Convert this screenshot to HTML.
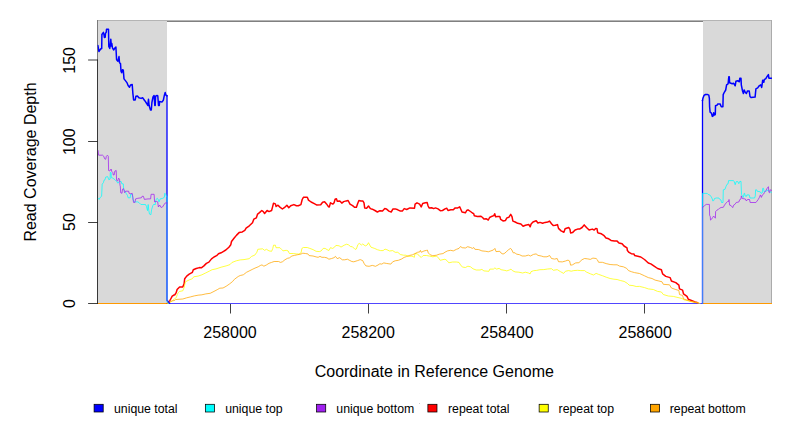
<!DOCTYPE html>
<html><head><meta charset="utf-8">
<style>
html,body{margin:0;padding:0;background:#fff;}
body{width:792px;height:432px;overflow:hidden;position:relative;font-family:"Liberation Sans",sans-serif;}
svg{position:absolute;left:0;top:0;}
text{font-family:"Liberation Sans",sans-serif;fill:#000;}
</style></head><body>
<svg width="792" height="432" viewBox="0 0 792 432">
<rect x="0" y="0" width="792" height="432" fill="#fff"/>
<!-- box -->
<rect x="97" y="20" width="675" height="1" fill="#b4b4b4"/>
<rect x="167" y="21" width="536" height="1" fill="#808080"/>
<rect x="771" y="20" width="1" height="284" fill="#ababab"/>
<!-- gray regions -->
<rect x="98" y="21" width="69" height="283" fill="#d9d9d9"/>
<rect x="703" y="21" width="68" height="283" fill="#d9d9d9"/>
<rect x="97" y="20" width="1" height="40" fill="#7a7a7a"/>
<rect x="97" y="59.5" width="1" height="244.5" fill="#383838"/>
<!-- axes ticks -->
<g stroke="#000" stroke-width="0.75" fill="none">
<path d="M97.5 303.5H88.1M97.5 222.5H88.1M97.5 141.5H88.1M97.5 60H88.1"/>
<path d="M230.5 303.5V313.5M368.5 303.5V313.5M506.5 303.5V313.5M644.5 303.5V313.5"/>
</g>
<!-- CURVES -->
<defs><clipPath id="pc"><rect x="97.5" y="20.5" width="674.5" height="283.5"/></clipPath></defs>
<g id="curves" clip-path="url(#pc)" fill="none" stroke-linejoin="round" stroke-linecap="round">
<rect x="98" y="303" width="69" height="1" fill="#ff9900"/>
<rect x="703" y="303" width="69" height="1" fill="#ff9900"/>
<rect x="167" y="303" width="536" height="1" fill="#5046ff"/>
<path d="M167.3 303.4L168.2 302.2L169.8 300.7L171.0 298.5L172.2 296.2L173.5 295.3L174.8 294.8L175.6 293.5L176.3 292.3L177.1 289.5L179.6 286.9L182.8 286.9L184.1 283.8L184.7 278.7L186.7 276.1L189.2 274.2L192.4 272.3L193.3 269.7L196.2 268.5L199.4 267.6L201.3 267.8L203.9 265.9L206.4 263.4L208.9 262.1L211.5 258.9L214.0 257.0L216.6 255.7L218.5 253.8L221.1 252.8L223.6 251.3L225.8 250.0L228.9 247.2L230.8 244.7L231.5 241.5L234.0 238.3L236.6 235.1L239.1 232.6L242.3 231.9L244.8 230.4L246.1 228.1L249.3 225.8L252.5 222.8L253.8 219.2L256.3 217.9L257.6 214.1L259.5 212.6L261.8 210.5L263.3 211.6L264.6 213.5L267.1 210.5L269.0 211.6L271.6 210.5L272.5 207.1L273.5 203.3L275.4 203.9L276.1 206.5L278.0 205.2L279.9 207.1L282.4 209.0L284.3 207.7L286.9 205.2L288.8 207.7L290.7 205.8L293.9 204.6L296.4 205.8L298.3 205.8L300.9 204.6L302.2 199.5L303.4 197.3L307.3 197.3L308.5 200.1L311.1 202.0L314.3 203.7L316.9 205.1L320.7 204.7L322.6 202.2L324.6 201.8L326.5 203.9L328.4 206.7L329.3 206.9L330.5 202.8L332.8 204.1L334.1 202.8L335.1 199.3L336.4 198.8L337.3 201.3L339.8 200.9L341.8 203.1L343.7 201.6L346.2 200.9L348.1 200.5L350.0 204.1L352.6 205.6L354.5 207.3L356.4 207.3L357.7 203.5L358.9 200.5L360.9 200.9L362.8 200.9L364.0 202.8L364.7 207.9L366.6 208.2L368.5 206.0L370.4 208.6L372.3 209.2L374.9 210.5L377.4 212.0L380.0 210.7L382.5 211.1L384.8 208.6L386.3 208.9L388.9 211.1L391.2 212.0L393.0 208.9L395.3 208.9L397.8 209.8L400.4 211.1L402.3 211.1L404.2 208.6L406.7 209.5L409.9 207.9L414.5 208.2L415.1 204.1L417.0 202.8L419.6 204.1L421.2 206.9L422.7 203.5L425.3 202.8L427.2 202.6L428.1 206.0L429.1 207.9L431.7 207.7L433.6 208.6L435.5 207.9L438.0 208.9L440.3 210.7L442.5 210.5L445.0 208.9L446.7 208.2L448.0 210.5L450.8 209.8L453.3 209.8L455.2 207.9L457.8 207.9L459.7 206.9L461.0 209.8L462.0 212.0L465.4 212.8L466.7 210.5L468.0 209.8L470.5 211.5L472.4 213.0L473.7 213.6L474.3 215.8L477.5 216.6L480.7 216.2L482.6 217.5L483.9 219.1L486.4 218.8L488.3 220.0L489.6 217.5L492.2 216.2L493.8 215.6L494.7 213.7L495.6 216.8L497.9 216.6L499.8 216.6L500.7 219.4L503.0 220.9L505.5 220.4L506.9 217.9L508.8 217.3L510.7 214.4L512.0 216.7L512.9 221.1L515.2 222.0L517.7 223.3L520.9 224.0L523.1 226.2L525.4 225.3L528.9 224.6L530.2 226.8L531.1 224.0L533.0 222.0L536.2 220.7L537.9 223.0L540.0 222.4L542.6 223.3L545.1 222.4L547.7 222.0L549.6 221.1L551.5 223.7L553.2 225.6L555.3 225.3L557.5 224.6L558.5 228.4L561.1 230.9L563.9 232.2L565.1 228.8L568.7 227.5L570.0 229.4L570.6 233.0L572.5 232.6L575.1 230.0L577.6 229.1L579.5 229.1L582.1 227.5L584.2 224.9L586.5 227.5L589.1 230.0L592.3 229.1L594.2 230.0L595.7 228.4L597.0 228.8L597.7 232.6L598.4 233.0L601.4 233.8L604.1 235.7L606.0 238.0L608.7 238.8L611.0 240.4L614.4 240.9L617.1 241.1L619.0 243.0L622.1 243.7L624.0 246.0L627.0 247.9L627.4 250.6L629.0 252.4L631.3 253.7L633.9 253.9L634.7 255.6L637.8 256.3L640.8 257.0L644.5 259.5L648.3 263.0L650.8 263.9L654.5 266.4L657.6 268.5L661.4 269.8L662.6 273.9L665.8 276.4L670.1 277.6L671.4 281.0L675.8 282.6L678.9 285.1L679.5 288.9L682.6 290.1L683.5 293.9L687.0 296.4L688.3 299.3L692.0 300.8L695.1 302.0L697.8 302.8" stroke="#ff0000" stroke-width="1.5"/>
<path d="M167.3 303.4L169.0 303.0L170.4 302.4L172.6 300.5L174.8 298.7L176.3 297.6L177.4 294.2L178.5 292.4L179.6 291.4L182.8 290.8L184.1 287.6L185.4 281.8L189.2 279.9L192.4 278.7L193.7 276.8L198.1 276.1L201.9 274.8L205.8 272.9L209.6 271.0L212.1 269.7L216.0 268.9L221.1 267.2L226.1 265.9L230.0 264.6L231.9 262.5L236.3 260.8L240.2 259.9L244.0 259.6L249.1 258.7L251.6 256.4L254.8 255.1L256.9 252.2L257.8 249.3L262.6 248.8L264.6 250.3L266.5 249.3L269.0 250.9L271.6 251.3L272.8 248.4L273.5 245.2L275.4 245.2L276.0 247.7L279.9 247.7L281.8 249.6L283.0 250.9L286.2 250.3L288.1 250.9L289.4 253.5L293.2 253.5L296.4 253.9L298.9 254.1L301.1 252.8L301.9 248.4L303.4 247.5L307.2 247.5L309.8 248.4L313.0 249.6L316.1 251.3L319.3 251.6L321.2 250.9L323.2 248.4L325.1 248.4L327.0 249.6L328.9 250.5L330.4 247.7L332.7 248.4L334.6 247.1L335.9 245.4L339.1 245.8L341.0 247.1L344.2 245.2L346.7 244.2L348.6 244.9L350.5 246.5L352.5 246.8L355.1 249.4L356.4 248.9L357.9 244.6L359.2 243.4L361.5 245.0L362.7 244.0L365.3 245.9L367.2 245.0L368.5 242.7L369.7 245.0L371.0 247.2L374.8 248.5L377.4 249.7L380.6 250.6L383.1 250.6L385.0 249.1L386.9 249.7L389.5 251.0L392.7 250.6L395.2 252.3L397.8 252.3L400.3 254.5L403.5 255.2L406.0 255.2L408.6 256.5L411.1 256.1L413.1 256.5L414.3 257.4L415.0 253.6L417.5 253.9L419.4 256.1L421.3 257.4L423.2 255.5L426.4 255.5L429.6 256.1L432.8 256.8L436.6 256.1L438.5 258.0L440.2 260.3L443.0 259.6L445.0 259.2L446.9 260.5L448.8 262.8L452.6 262.0L456.5 262.0L459.0 262.4L460.9 265.6L462.8 267.1L465.4 267.5L467.9 266.2L470.5 266.8L473.0 268.8L476.2 270.0L480.0 270.0L481.9 269.4L483.9 270.9L488.9 271.3L489.8 269.1L493.4 269.1L494.9 267.9L496.6 269.1L499.1 268.4L501.1 269.7L504.9 270.4L506.8 270.9L509.3 270.0L511.0 269.1L512.5 270.7L515.1 271.9L518.9 272.2L522.7 273.0L525.3 272.2L528.4 273.0L530.1 273.9L531.0 271.7L533.5 270.7L536.7 270.4L539.9 269.7L543.8 269.6L547.6 269.0L551.5 268.7L553.4 270.3L557.2 269.6L560.4 271.6L563.6 273.4L565.5 271.2L568.7 270.6L571.2 271.2L573.8 270.6L577.6 270.3L580.8 270.6L584.6 270.6L586.5 272.1L590.3 273.8L593.5 275.0L596.1 273.4L598.6 274.4L602.4 275.7L606.2 277.2L610.1 278.5L613.9 279.2L617.1 279.5L620.3 280.5L624.1 281.4L627.3 283.3L629.2 285.2L633.0 285.6L636.2 286.5L639.5 286.4L644.5 287.6L648.3 288.9L653.3 289.5L657.6 291.4L661.4 292.0L663.3 294.5L668.3 296.0L673.3 296.4L677.0 297.3L682.0 298.5L683.9 299.8L688.3 300.8L692.0 301.8L697.0 302.6L700.0 303.4" stroke="#ffff00" stroke-width="0.75"/>
<path d="M167.3 303.4L169.0 302.3L171.1 301.2L174.8 300.4L175.6 299.5L180.0 299.2L182.8 299.0L186.7 297.8L190.5 296.9L194.3 295.9L198.1 295.2L201.9 294.8L205.8 293.9L210.2 293.3L214.0 291.4L217.2 289.7L219.8 288.2L223.0 288.0L226.1 286.3L229.3 284.1L232.5 281.6L234.4 279.3L238.2 276.5L240.2 275.5L243.3 274.8L246.5 272.3L249.1 271.0L252.9 269.1L255.0 268.1L258.2 266.8L260.7 265.3L262.0 264.9L263.9 266.2L266.5 264.9L269.0 263.3L271.6 262.4L274.1 261.5L278.6 261.5L280.5 262.4L282.4 261.8L284.9 259.8L287.5 258.3L289.4 257.9L291.9 256.0L294.5 255.4L297.7 254.7L300.9 254.1L302.8 253.2L305.3 253.5L307.9 253.9L309.1 255.6L313.0 256.0L316.1 256.9L318.1 257.3L320.0 256.4L321.9 257.3L324.4 257.3L327.0 257.9L328.9 259.2L331.4 258.6L334.0 257.7L335.5 256.4L337.2 258.6L339.7 257.7L342.3 259.8L344.8 259.8L347.4 259.2L349.9 260.5L351.8 261.5L353.8 261.8L357.6 260.6L360.2 259.6L362.7 260.6L364.3 263.8L365.9 265.9L369.1 266.3L372.3 265.4L375.5 266.3L378.0 265.0L379.9 263.8L381.8 264.1L383.8 262.9L386.3 263.4L388.9 263.8L390.8 264.1L392.7 261.8L395.2 260.8L398.4 260.3L401.6 259.0L404.1 257.4L406.7 256.5L409.2 255.5L412.4 254.8L415.0 253.6L417.5 252.3L419.8 251.9L420.4 250.4L421.3 252.3L423.9 251.0L426.4 250.4L427.4 250.1L428.3 252.9L430.2 254.8L432.8 255.7L436.6 255.2L439.2 254.2L443.0 253.6L445.0 252.2L447.5 250.9L450.7 250.3L453.3 250.9L456.5 249.3L459.0 248.4L460.5 246.5L462.2 247.7L465.4 248.0L467.7 246.7L470.5 247.5L472.4 248.4L473.7 247.5L474.9 249.3L478.8 249.6L481.9 250.9L485.8 251.3L488.3 251.8L490.9 250.9L493.4 250.0L494.9 248.4L496.0 251.6L499.8 251.3L501.1 253.1L503.0 254.1L504.9 253.1L506.8 251.3L508.7 249.6L510.6 248.4L511.9 250.0L513.2 252.8L515.1 252.8L516.3 254.1L519.5 254.7L522.1 256.0L525.3 256.0L528.4 255.1L530.4 256.0L533.5 254.4L536.1 253.9L538.0 255.4L541.2 256.0L543.8 256.8L547.0 256.8L549.6 255.5L551.5 258.5L554.6 259.1L557.2 258.5L558.5 261.7L562.3 261.9L565.5 261.0L568.0 260.1L569.6 261.0L570.6 265.2L572.5 264.8L575.7 262.9L578.9 262.7L582.0 259.7L584.6 258.5L587.8 258.9L590.3 259.4L592.9 258.1L596.1 258.5L597.3 259.7L598.6 262.3L602.4 262.3L606.2 263.6L610.1 264.5L613.9 264.8L617.1 264.8L619.6 266.1L623.4 266.8L626.6 268.3L628.5 270.6L631.7 271.8L634.5 272.6L639.5 273.5L644.5 275.8L648.3 277.6L652.0 278.5L655.1 280.1L658.9 281.0L662.0 281.8L663.3 284.3L669.5 284.8L671.4 288.0L675.1 289.3L678.9 290.5L679.5 294.5L682.6 295.5L683.5 298.9L687.0 300.1L690.8 301.4L697.8 302.8" stroke="#ffa500" stroke-width="0.75"/>
<path d="M97.9 45.4L98.9 51.5L100.6 49.0L101.7 48.5L101.9 34.5L103.4 32.4L103.9 34.1L104.4 37.4L105.2 37.2L105.5 33.4L106.3 32.1L106.5 29.3L108.5 29.2L108.8 46.4L109.8 48.5L110.8 39.3L111.3 45.9L111.8 43.4L112.5 48.0L113.6 50.0L114.9 48.0L115.9 47.0L116.6 59.7L117.9 61.2L119.0 56.6L119.5 62.7L120.5 63.6L121.0 71.2L121.7 72.7L122.5 69.7L123.3 70.2L124.0 78.9L125.6 80.9L127.1 82.9L128.1 85.5L129.5 87.3L130.5 85.0L132.2 84.5L132.9 93.6L133.6 99.9L135.2 99.9L135.9 96.2L137.4 95.9L138.9 97.7L141.1 98.4L142.6 97.7L144.8 100.7L147.0 104.0L147.8 105.5L148.5 99.2L149.1 105.5L150.4 109.9L151.3 109.9L151.9 102.5L153.0 97.0L154.1 95.5L154.8 105.5L155.2 105.5L155.6 96.2L157.0 95.5L157.8 96.0L158.5 105.5L159.3 105.5L159.6 101.4L161.9 102.1L163.3 100.3L164.4 95.1L165.2 92.5L165.9 95.1L167.0 95.9" stroke="#0000ff" stroke-width="1.5"/>
<path d="M167.0 95.5L167.0 300.4L168.2 301.5L169.6 303.4" stroke="#0000ff" stroke-width="1.3"/>
<path d="M702.5 303.4L702.5 100.2" stroke="#0000ff" stroke-width="1.3"/>
<path d="M702.5 100.4L703.0 98.0L704.0 95.4L705.5 94.5L707.2 94.4L708.8 95.1L709.4 98.6L709.6 106.7L710.1 112.2L711.4 113.1L712.3 116.4L713.0 116.0L713.7 112.7L714.4 115.0L715.3 114.5L715.5 105.7L716.9 105.3L717.8 103.9L720.1 103.9L721.3 106.7L722.9 106.7L723.2 94.6L724.3 92.3L725.7 90.0L726.6 84.8L728.1 83.8L728.8 76.7L729.3 76.7L729.6 82.8L732.2 83.8L733.7 83.3L735.2 85.8L735.9 81.3L737.8 80.7L739.3 81.8L739.8 78.2L741.0 78.2L741.3 84.8L742.4 90.4L743.4 93.5L744.1 89.9L745.4 92.5L746.4 93.5L747.5 90.9L749.2 90.9L750.0 96.5L751.0 97.6L755.1 97.1L755.9 88.9L757.7 87.9L759.2 85.8L760.7 84.8L761.7 87.4L762.7 80.2L763.8 82.3L764.3 79.7L765.8 78.7L767.3 76.2L768.4 74.6L768.9 78.2L771.5 78.2" stroke="#0000ff" stroke-width="1.5"/>
<path d="M98.1 198.3L99.1 199.4L100.3 197.3L101.6 196.3L102.2 184.1L103.4 182.7L104.0 180.2L105.0 179.8L105.7 177.1L107.7 176.6L108.8 179.7L110.1 179.1L110.3 172.5L111.1 172.5L111.3 177.6L112.8 178.1L114.9 179.7L116.4 181.2L117.9 183.2L119.5 181.2L121.3 181.7L121.7 183.7L123.3 183.9L123.7 189.7L125.1 191.2L126.1 193.3L127.4 195.3L128.1 197.8L130.2 197.8L130.7 194.3L132.2 194.3L132.9 199.4L134.2 201.9L137.8 201.9L139.3 202.9L140.9 204.5L145.5 204.5L146.5 206.5L147.5 210.6L148.2 204.5L148.8 210.6L149.5 214.1L150.9 214.7L151.6 209.6L152.9 205.5L154.1 204.0L155.1 205.0L156.0 199.4L157.4 198.3L158.4 199.9L159.0 201.9L160.2 198.9L162.8 198.3L164.3 197.3L164.8 193.3L165.8 194.3L166.4 196.3L167.0 196.3L167.0 302.3L168.4 303.4" stroke="#00ffff" stroke-width="0.75"/>
<path d="M702.5 303.4L702.5 193.4L707.2 193.4L708.2 194.4L709.7 194.9L711.3 196.9L712.3 199.0L712.8 201.0L713.8 200.5L714.5 198.5L716.4 198.0L718.9 198.0L719.9 199.5L721.0 200.0L721.5 202.5L723.0 202.5L723.3 189.8L725.0 189.3L726.1 186.2L727.1 184.2L728.1 183.7L728.6 180.6L733.5 180.6L734.2 181.6L735.2 184.7L736.2 181.6L737.8 181.6L738.8 183.7L739.6 181.6L741.0 181.3L741.5 194.4L742.4 195.9L743.4 197.4L744.1 193.4L744.7 193.4L745.1 195.9L746.4 196.4L746.9 194.9L749.2 194.9L750.0 198.0L754.6 198.0L755.3 195.9L755.6 189.8L756.6 189.8L757.3 191.3L760.2 191.8L761.2 193.4L762.2 193.0L762.7 188.3L763.5 188.3L764.1 191.8L765.3 191.3L766.8 190.8L768.4 189.8L769.9 191.8L771.5 192.3" stroke="#00ffff" stroke-width="0.75"/>
<path d="M98.1 150.6L98.6 155.2L102.6 155.2L103.7 156.2L104.7 158.8L105.7 159.3L106.4 156.2L107.4 155.2L108.3 156.2L108.6 170.5L109.8 171.0L111.1 169.0L111.8 171.5L112.8 172.5L113.3 175.0L114.1 175.0L114.9 171.0L116.2 170.5L116.6 180.2L117.6 181.2L118.6 178.1L119.5 179.1L120.0 185.3L120.3 186.1L120.7 192.7L122.0 193.3L122.5 189.2L123.7 188.7L124.6 192.7L125.6 191.2L128.6 191.2L129.1 193.3L130.7 193.8L132.2 193.3L132.9 197.3L133.5 202.4L135.0 202.4L135.6 198.9L137.8 198.3L141.4 197.8L142.1 196.3L143.4 196.3L144.4 199.4L148.0 198.9L150.6 198.9L151.1 194.3L154.1 194.3L154.6 201.9L156.2 201.4L157.7 201.9L158.4 207.0L159.7 205.0L161.1 207.5L162.5 207.0L163.8 205.0L165.3 202.9L167.0 202.9" stroke="#a020f0" stroke-width="0.75"/>
<path d="M702.5 207.6L704.6 205.6L706.2 204.4L709.4 204.4L709.6 215.3L710.3 216.7L710.5 220.1L711.5 219.3L712.6 217.5L713.7 216.0L714.4 217.1L715.4 218.2L715.6 211.6L717.0 210.1L718.5 209.3L719.6 208.2L721.1 207.5L723.3 207.3L724.5 205.1L726.1 203.0L727.6 201.5L728.6 201.5L729.0 199.5L729.6 205.1L731.1 205.6L732.7 207.6L733.7 205.1L735.2 204.1L736.2 202.5L738.8 202.0L739.8 199.5L741.0 199.0L741.3 195.9L742.4 198.5L745.4 199.0L746.4 201.0L747.5 199.5L749.5 199.5L750.2 202.5L755.9 202.5L757.1 201.0L758.2 199.5L759.4 197.4L760.4 194.9L761.4 197.4L762.4 194.9L763.8 193.9L764.5 192.3L765.8 190.8L766.8 188.8L768.4 186.7L768.9 192.3L769.6 192.8L770.2 189.8L771.5 190.3" stroke="#a020f0" stroke-width="0.75"/>
<path d="M167.0 202.9L167.0 300.5L168.2 301.7L169.6 303.4" stroke="#a020f0" stroke-width="0.4"/>
<path d="M702.5 303.4L702.5 207.6" stroke="#a020f0" stroke-width="0.4"/>
</g>
<!-- tick labels -->
<g font-size="16px" text-anchor="middle">
<text x="230" y="338">258000</text>
<text x="368.2" y="338">258200</text>
<text x="507" y="338">258400</text>
<text x="645.2" y="338">258600</text>
<text x="434.3" y="377">Coordinate in Reference Genome</text>
<text transform="translate(75.1,303.5) rotate(-90)">0</text>
<text transform="translate(75.1,222) rotate(-90)">50</text>
<text transform="translate(75.1,141.7) rotate(-90)">100</text>
<text transform="translate(75.1,60.4) rotate(-90)">150</text>
<text transform="translate(36.4,162) rotate(-90)">Read Coverage Depth</text>
</g>
<!-- legend -->
<rect x="419" y="403" width="1" height="1" fill="#d0d0d0"/>
<g font-size="12.3px">
<g stroke="#000" stroke-width="0.75">
<rect x="94.10" y="404.3" width="9.1" height="7.7" fill="#0000ff"/>
<rect x="205.36" y="404.3" width="9.1" height="7.7" fill="#00ffff"/>
<rect x="316.62" y="404.3" width="9.1" height="7.7" fill="#a020f0"/>
<rect x="427.88" y="404.3" width="9.1" height="7.7" fill="#ff0000"/>
<rect x="539.14" y="404.3" width="9.1" height="7.7" fill="#ffff00"/>
<rect x="650.40" y="404.3" width="9.1" height="7.7" fill="#ffa500"/>
</g>
<text x="114.00" y="413">unique total</text>
<text x="225.15" y="413">unique top</text>
<text x="336.30" y="413">unique bottom</text>
<text x="448.00" y="413">repeat total</text>
<text x="558.60" y="413">repeat top</text>
<text x="669.75" y="413">repeat bottom</text>
</g>
</svg>
</body></html>
